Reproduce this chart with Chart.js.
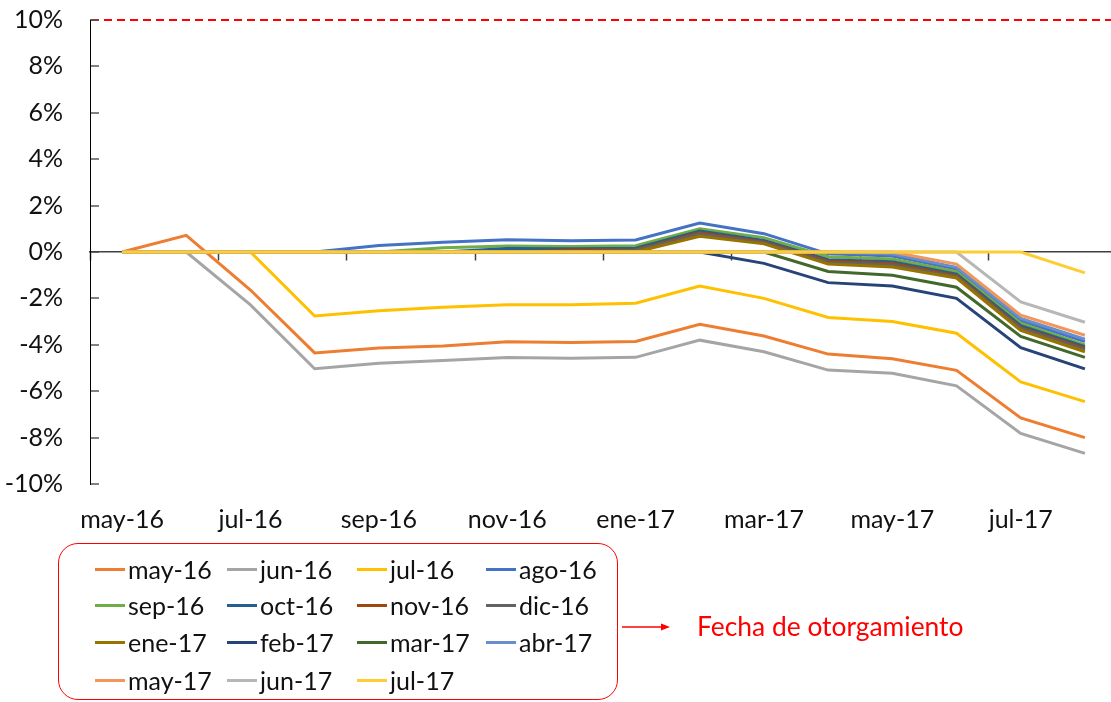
<!DOCTYPE html>
<html>
<head>
<meta charset="utf-8">
<script src="https://cdn.jsdelivr.net/npm/chart.js@4.4.1/dist/chart.umd.min.js"></script>
<style>
  html, body { margin: 0; padding: 0; background: #fff; overflow: hidden; }
  #wrap { position: relative; width: 1111px; height: 702px; overflow: hidden; font-family: Lato, sans-serif; }
  #myChart { position: absolute; left: 0; top: 0; }
  #legendBox { position: absolute; left: 58px; top: 543px; width: 560px; height: 157px;
    border: 1.3px solid #ff0000; border-radius: 20px; box-sizing: border-box; }
  .legend-item { position: absolute; height: 30px; line-height: 30px; font-size: 25px; color: #111;
    white-space: nowrap; display: flex; align-items: center; }
  .legend-item .swatch { display: inline-block; width: 30px; height: 3px; margin-right: 3px; }
  #arrow { position: absolute; left: 620px; top: 619px; }
  #note { position: absolute; left: 697px; top: 611px; height: 30px; line-height: 30px;
    font-size: 26.4px; color: #ff0000; white-space: nowrap; }
</style>
</head>
<body>
<div id="wrap">
  <canvas id="myChart" width="1117" height="702"></canvas>
  <div id="legendBox"></div>
  <div id="legend"></div>
  <svg id="arrow" width="52" height="16">
    <line x1="2" y1="8" x2="42" y2="8" stroke="#ff0000" stroke-width="1.3"></line>
    <polygon points="50,8 41,4.5 41,11.5" fill="#ff0000"></polygon>
  </svg>
  <div id="note">Fecha de otorgamiento</div>
</div>
<script>
// months on the x axis
const months = ["may-16", "jun-16", "jul-16", "ago-16", "sep-16", "oct-16", "nov-16", "dic-16",
  "ene-17", "feb-17", "mar-17", "abr-17", "may-17", "jun-17", "jul-17", "ago-17"];

// one line per "fecha de otorgamiento" (values in %)
const cohorts = ["may-16", "jun-16", "jul-16", "ago-16", "sep-16", "oct-16", "nov-16", "dic-16",
  "ene-17", "feb-17", "mar-17", "abr-17", "may-17", "jun-17", "jul-17"];

const sMay16 = [0, 0.72, -1.64, -4.35, -4.14, -4.05, -3.87, -3.9, -3.86, -3.12, -3.62, -4.4, -4.6, -5.1, -7.15, -8.0];
const sJun16 = [0, 0, -2.28, -5.03, -4.8, -4.68, -4.55, -4.58, -4.54, -3.8, -4.3, -5.09, -5.23, -5.77, -7.82, -8.68];
const sJul16 = [0, 0, 0, -2.76, -2.53, -2.38, -2.27, -2.27, -2.21, -1.47, -2.0, -2.82, -3.0, -3.5, -5.6, -6.45];
const sAgo16 = [0, 0, 0, 0, 0.28, 0.42, 0.53, 0.49, 0.52, 1.25, 0.79, -0.08, -0.17, -0.73, -2.96, -3.86];
const sSep16 = [0, 0, 0, 0, 0, 0.18, 0.26, 0.24, 0.27, 1.0, 0.62, -0.2, -0.3, -0.85, -3.07, -4.0];
const sOct16 = [0, 0, 0, 0, 0, 0, 0.15, 0.14, 0.16, 0.9, 0.5, -0.33, -0.42, -0.95, -3.18, -4.08];
const sNov16 = [0, 0, 0, 0, 0, 0, 0, 0.08, 0.1, 0.83, 0.43, -0.4, -0.5, -1.02, -3.26, -4.15];
const sDic16 = [0, 0, 0, 0, 0, 0, 0, 0, 0.08, 0.78, 0.4, -0.45, -0.56, -1.06, -3.3, -4.2];
const sEne17 = [0, 0, 0, 0, 0, 0, 0, 0, 0, 0.68, 0.35, -0.52, -0.65, -1.12, -3.38, -4.3];
const sFeb17 = [0, 0, 0, 0, 0, 0, 0, 0, 0, 0, -0.49, -1.32, -1.47, -2.0, -4.12, -5.04];
const sMar17 = [0, 0, 0, 0, 0, 0, 0, 0, 0, 0, 0, -0.84, -1.0, -1.52, -3.64, -4.54];
const sAbr17 = [0, 0, 0, 0, 0, 0, 0, 0, 0, 0, 0, 0, -0.09, -0.66, -2.86, -3.76];
const sMay17 = [0, 0, 0, 0, 0, 0, 0, 0, 0, 0, 0, 0, 0, -0.52, -2.72, -3.59];
const sJun17 = [0, 0, 0, 0, 0, 0, 0, 0, 0, 0, 0, 0, 0, 0, -2.15, -3.03];
const sJul17 = [0, 0, 0, 0, 0, 0, 0, 0, 0, 0, 0, 0, 0, 0, 0, -0.9];

const seriesValues = [sMay16, sJun16, sJul16, sAgo16, sSep16, sOct16, sNov16, sDic16,
  sEne17, sFeb17, sMar17, sAbr17, sMay17, sJun17, sJul17];

const colors = ["#ED7D31", "#A5A5A5", "#FFC000", "#4472C4", "#70AD47", "#255E91", "#9E480E", "#636363",
  "#997300", "#264478", "#43682B", "#698ED0", "#F1975A", "#B7B7B7", "#FFCD33"];

// y axis ticks (%)
const yMin = -10;
const yMax = 10;
const yStep = 2;
const limitLine = 10;

const font = { family: "Lato", size: 25 };

let datasets = [];
for (let i = 0; i < cohorts.length; i++) {
  datasets.push({
    label: cohorts[i],
    data: seriesValues[i],
    borderColor: colors[i],
    backgroundColor: colors[i],
    borderWidth: 3,
    pointRadius: 0,
    tension: 0,
    fill: false,
    order: cohorts.length - 1 - i // later cohorts on top, like excel
  });
}

let ctx = document.getElementById("myChart").getContext("2d");
let myChart = new Chart(ctx, {
  type: "line",
  data: { labels: months, datasets: datasets },
  options: {
    responsive: false,
    animation: false,
    layout: { padding: { left: 0, top: 20, right: 0, bottom: 0 } },
    plugins: { legend: { display: false }, tooltip: { enabled: false } },
    scales: {
      x: {
        type: "category",
        position: "bottom",
        offset: true,
        grid: { display: false, drawTicks: false },
        border: { display: false },
        ticks: {
          autoSkip: false,
          maxRotation: 0,
          minRotation: 0,
          padding: 21,
          color: "#111",
          font: font,
          callback: function (val, idx) {
            return idx % 2 === 0 ? this.getLabelForValue(val) : "";
          }
        },
        afterFit: function (scale) { scale.height = 218; }
      },
      xZero: {
        type: "category",
        position: { y: 0 },
        offset: true,
        ticks: { display: false },
        border: { display: true, color: "#404040", width: 1.5 },
        grid: {
          offset: true,
          drawOnChartArea: false,
          drawTicks: true,
          tickLength: 8,
          tickWidth: 1.5,
          tickColor: (c) => (c.index % 2 === 0 ? "#404040" : "rgba(0,0,0,0)"),
          color: "rgba(0,0,0,0)"
        }
      },
      y: {
        min: yMin,
        max: yMax,
        border: { display: true, color: "#000", width: 1, dash: [8, 5] },
        grid: {
          drawOnChartArea: true,
          drawTicks: true,
          tickLength: -9,
          tickWidth: 1.5,
          tickColor: "#595959",
          lineWidth: 2,
          color: (c) => (c.tick && c.tick.value === limitLine ? "#ff0000" : "rgba(0,0,0,0)")
        },
        ticks: {
          stepSize: yStep,
          padding: 36,
          color: "#111",
          font: font,
          callback: (v) => v + "%"
        },
        afterFit: function (scale) {
          scale.width = 90;
          // the big label padding should not push the plot area down
          scale.paddingTop = 0;
          scale.paddingBottom = 0;
        }
      }
    }
  }
});

// legend as html, 4 columns like the excel one
const legendCols = [95, 227, 357, 486];
const legendRows = [569, 605, 642, 680];
let legendHtml = "";
myChart.data.datasets.forEach((ds, i) => {
  let col = i % 4;
  let row = Math.floor(i / 4);
  legendHtml += `
    <div class="legend-item" style="left:${legendCols[col]}px; top:${legendRows[row] - 15}px">
      <span class="swatch" style="background:${ds.borderColor}"></span>${ds.label}
    </div>`;
});
document.getElementById("legend").innerHTML = legendHtml;
</script>
</body>
</html>
